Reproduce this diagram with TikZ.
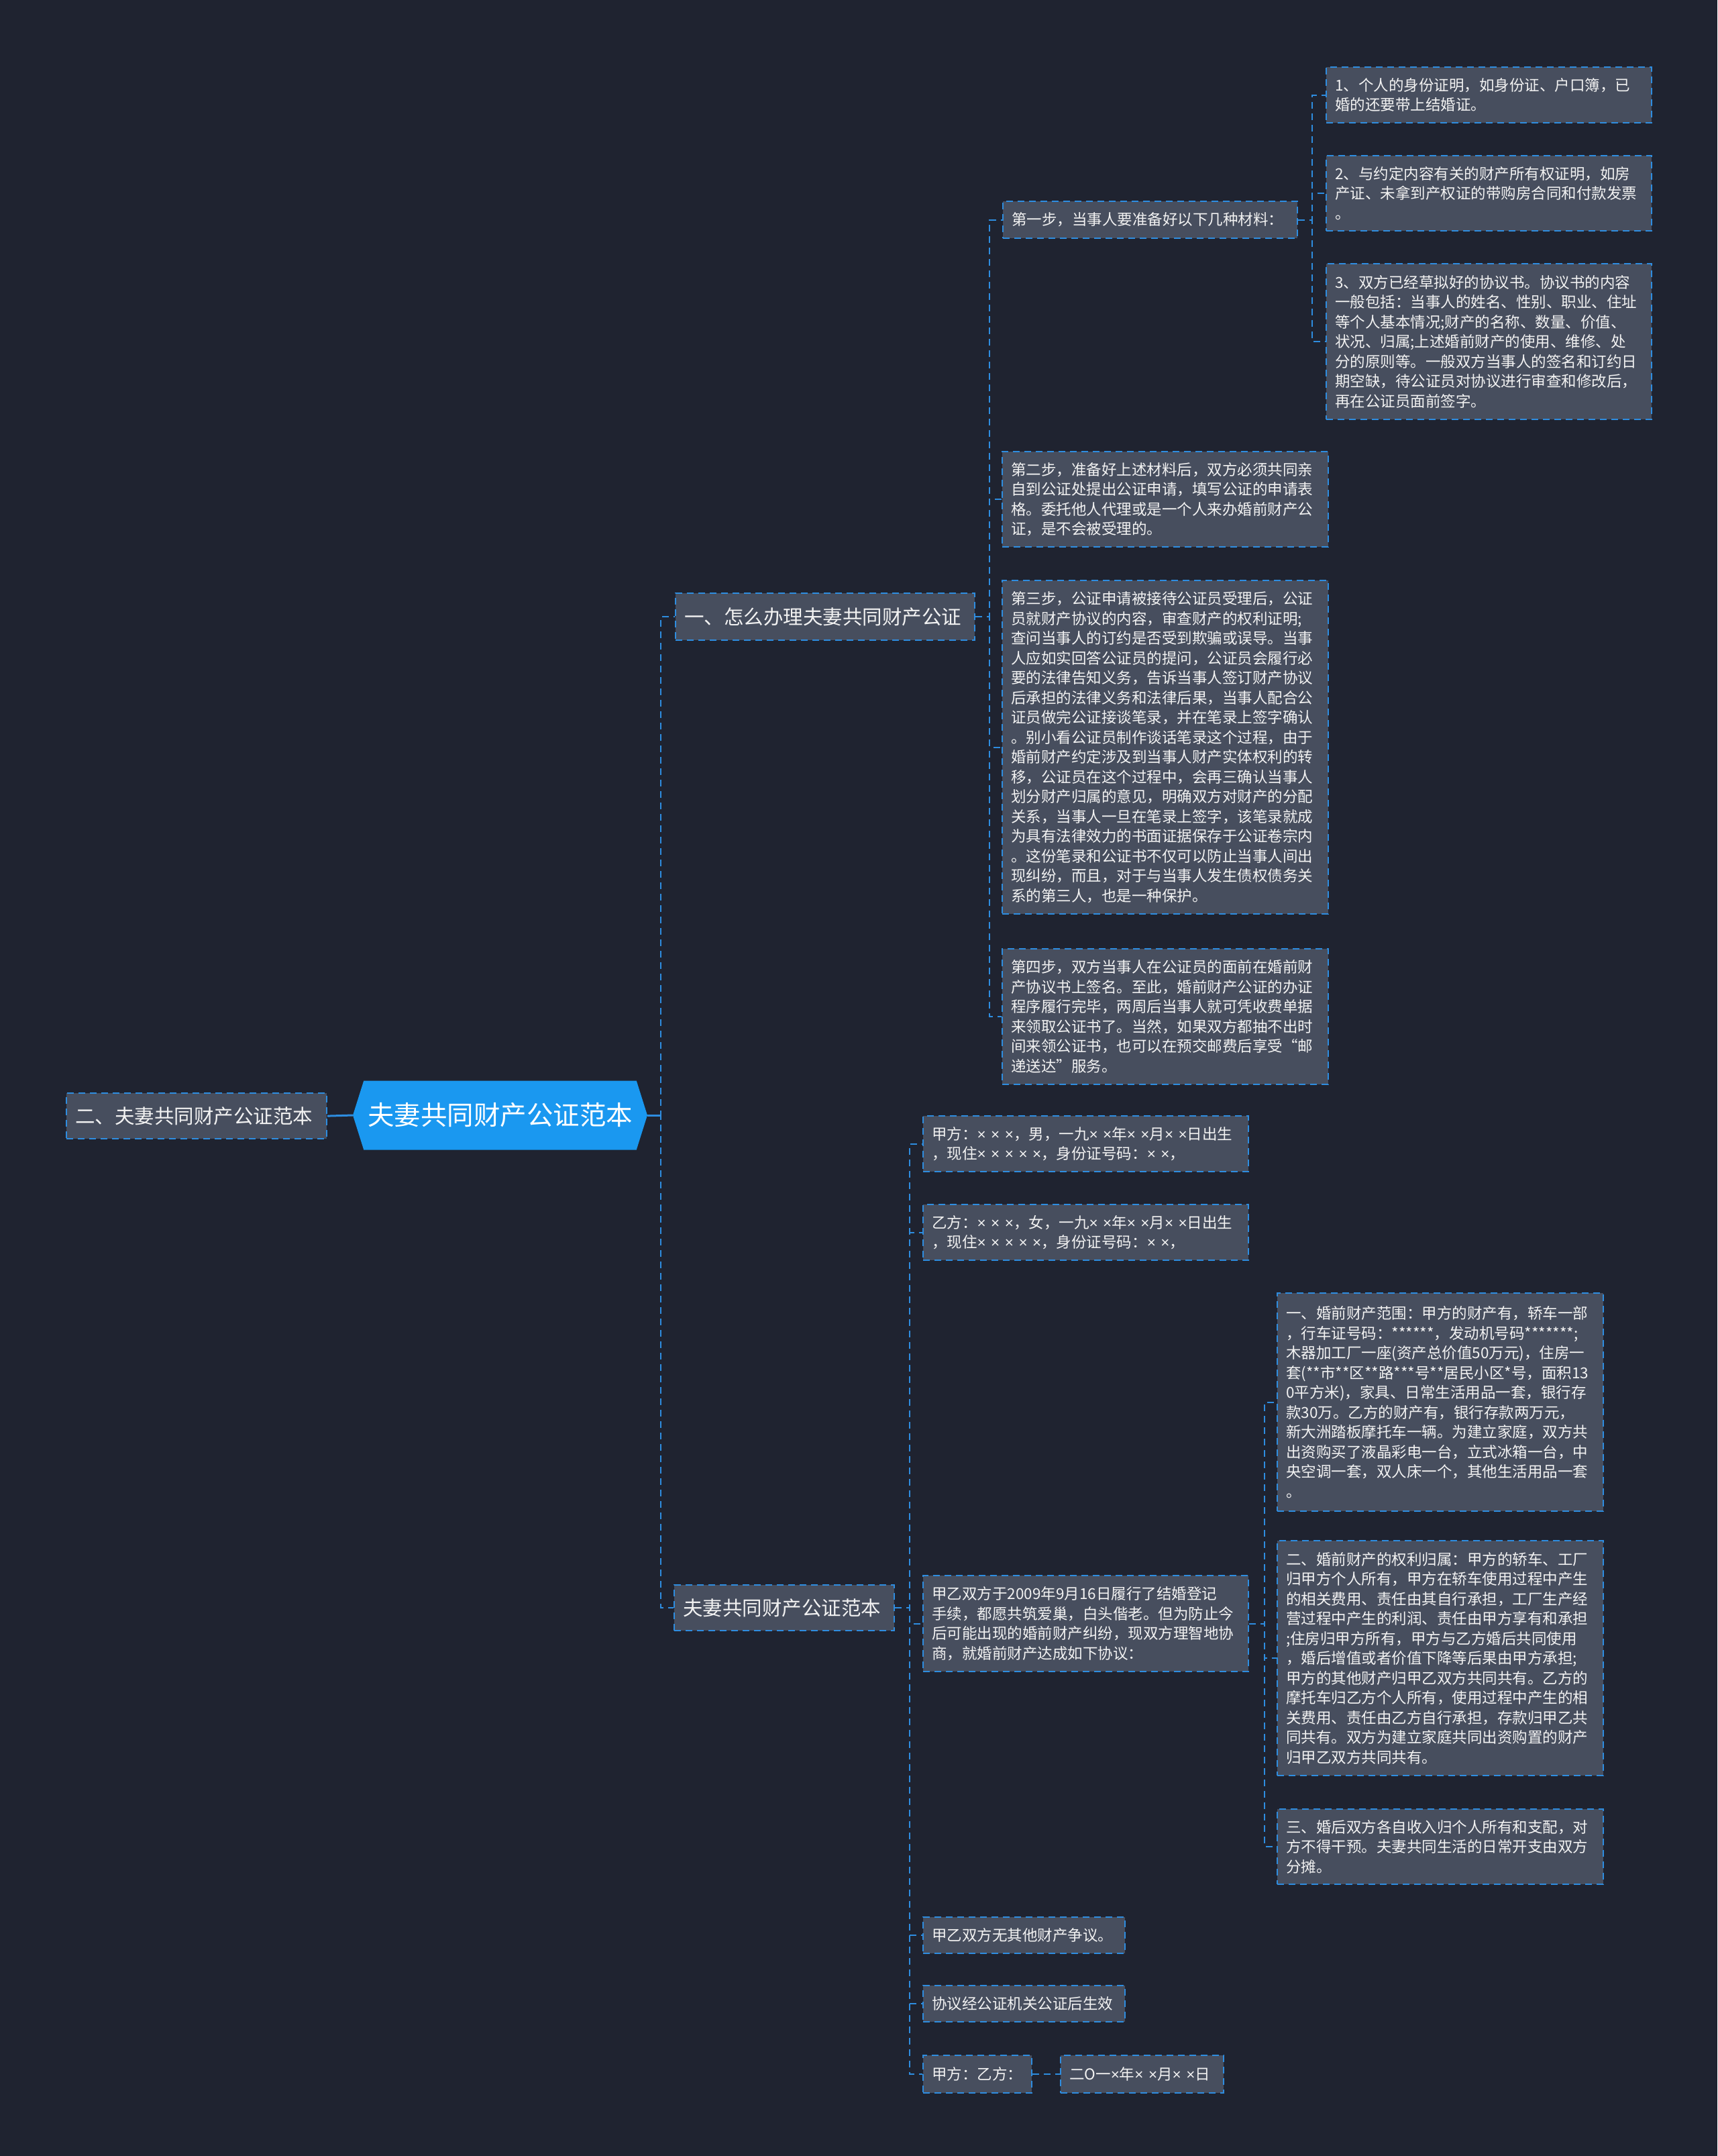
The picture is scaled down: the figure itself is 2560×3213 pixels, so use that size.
\documentclass[tikz,border=0pt]{standalone}
\usepackage{fontspec}
\setmainfont{Noto Sans CJK SC}
\newfontfamily\crossfont{Liberation Sans}
\newcommand\xs[1]{{\crossfont #1}}
\usetikzlibrary{shapes.symbols}
\definecolor{bgnavy}{HTML}{1F2330}
\definecolor{boxgray}{HTML}{474E5E}
\definecolor{dashblue}{HTML}{2E8DE0}
\definecolor{rootblue}{HTML}{1A98F0}
\definecolor{txtwhite}{HTML}{F2F2F2}
\begin{document}
\begin{tikzpicture}[x=1pt, y=-1pt,
    box/.style={draw=dashblue, dash pattern=on 10pt off 7pt, line width=2.2pt, fill=boxgray, text=txtwhite, align=left, inner xsep=13pt, inner ysep=0pt, anchor=north west, font=\fontsize{22.5}{29.5}\selectfont},
    branch/.style={box, font=\fontsize{29.5}{36}\selectfont},
    link/.style={draw=dashblue, dash pattern=on 10pt off 7pt, line width=2.2pt},
    stem/.style={draw=dashblue, line width=3pt}]
    \fill[bgnavy] (0,0) rectangle (2560,3213);
    \useasboundingbox (0,0) rectangle (2560,3213);
    \node[signal, signal to=west and east, signal pointer angle=145, fill=rootblue, text=white, minimum width=439pt, minimum height=103pt, inner sep=0pt, font=\fontsize{39.5}{44}\selectfont] (root) at (745.5,1662) {夫妻共同财产公证范本};
    \node[branch, text width=362pt, minimum height=68pt] (left) at (98,1628) {二、夫妻共同财产公证范本};
    \node[branch, text width=420pt, minimum height=70pt] (b1) at (1006,883) {一、怎么办理夫妻共同财产公证};
    \node[branch, text width=302pt, minimum height=68pt] (b2) at (1004,2361) {夫妻共同财产公证范本};
    \node[box, text width=413pt, minimum height=55pt] (s1) at (1494,299) {第一步，当事人要准备好以下几种材料：};
    \node[box, text width=460pt, minimum height=142pt] (s2) at (1493,672) {第二步，准备好上述材料后，双方必须共同亲\\自到公证处提出公证申请，填写公证的申请表\\格。委托他人代理或是一个人来办婚前财产公\\证，是不会被受理的。};
    \node[box, text width=460pt, minimum height=497pt] (s3) at (1493,864) {第三步，公证申请被接待公证员受理后，公证\\员就财产协议的内容，审查财产的权利证明;\\查问当事人的订约是否受到欺骗或误导。当事\\人应如实回答公证员的提问，公证员会履行必\\要的法律告知义务，告诉当事人签订财产协议\\后承担的法律义务和法律后果，当事人配合公\\证员做完公证接谈笔录，并在笔录上签字确认\\。别小看公证员制作谈话笔录这个过程，由于\\婚前财产约定涉及到当事人财产实体权利的转\\移，公证员在这个过程中，会再三确认当事人\\划分财产归属的意见，明确双方对财产的分配\\关系，当事人一旦在笔录上签字，该笔录就成\\为具有法律效力的书面证据保存于公证卷宗内\\。这份笔录和公证书不仅可以防止当事人间出\\现纠纷，而且，对于与当事人发生债权债务关\\系的第三人，也是一种保护。};
    \node[box, text width=460pt, minimum height=202pt] (s4) at (1493,1413) {第四步，双方当事人在公证员的面前在婚前财\\产协议书上签名。至此，婚前财产公证的办证\\程序履行完毕，两周后当事人就可凭收费单据\\来领取公证书了。当然，如果双方都抽不出时\\间来领公证书，也可以在预交邮费后享受“邮\\递送达”服务。};
    \node[box, text width=459pt, minimum height=83pt] (m1) at (1976,99) {1、个人的身份证明，如身份证、户口簿，已\\婚的还要带上结婚证。};
    \node[box, text width=459pt, minimum height=112pt] (m2) at (1976,231) {2、与约定内容有关的财产所有权证明，如房\\产证、未拿到产权证的带购房合同和付款发票\\。};
    \node[box, text width=459pt, minimum height=232pt] (m3) at (1976,392) {3、双方已经草拟好的协议书。协议书的内容\\一般包括：当事人的姓名、性别、职业、住址\\等个人基本情况;财产的名称、数量、价值、\\状况、归属;上述婚前财产的使用、维修、处\\分的原则等。一般双方当事人的签名和订约日\\期空缺，待公证员对协议进行审查和修改后，\\再在公证员面前签字。};
    \node[box, text width=459pt, minimum height=83pt] (p1) at (1375,1662) {甲方：\xs{× × ×}，男，一九\xs{× ×}年\xs{× ×}月\xs{× ×}日出生\\，现住\xs{× × × × ×}，身份证号码：\xs{× ×}，};
    \node[box, text width=459pt, minimum height=83pt] (p2) at (1375,1794) {乙方：\xs{× × ×}，女，一九\xs{× ×}年\xs{× ×}月\xs{× ×}日出生\\，现住\xs{× × × × ×}，身份证号码：\xs{× ×}，};
    \node[box, text width=459pt, minimum height=143pt] (p3) at (1375,2347) {甲乙双方于2009年9月16日履行了结婚登记\\手续，都愿共筑爱巢，白头偕老。但为防止今\\后可能出现的婚前财产纠纷，现双方理智地协\\商，就婚前财产达成如下协议：};
    \node[box, text width=460pt, minimum height=325pt] (q1) at (1903,1926) {一、婚前财产范围：甲方的财产有，轿车一部\\，行车证号码：******，发动机号码*******;\\木器加工厂一座(资产总价值50万元)，住房一\\套(**市**区**路***号**居民小区*号，面积13\\0平方米)，家具、日常生活用品一套，银行存\\款30万。乙方的财产有，银行存款两万元，\\新大洲踏板摩托车一辆。为建立家庭，双方共\\出资购买了液晶彩电一台，立式冰箱一台，中\\央空调一套，双人床一个，其他生活用品一套\\。};
    \node[box, text width=460pt, minimum height=350pt] (q2) at (1903,2295) {二、婚前财产的权利归属：甲方的轿车、工厂\\归甲方个人所有，甲方在轿车使用过程中产生\\的相关费用、责任由其自行承担，工厂生产经\\营过程中产生的利润、责任由甲方享有和承担\\;住房归甲方所有，甲方与乙方婚后共同使用\\，婚后增值或者价值下降等后果由甲方承担;\\甲方的其他财产归甲乙双方共同共有。乙方的\\摩托车归乙方个人所有，使用过程中产生的相\\关费用、责任由乙方自行承担，存款归甲乙共\\同共有。双方为建立家庭共同出资购置的财产\\归甲乙双方共同共有。};
    \node[box, text width=460pt, minimum height=112pt] (q3) at (1903,2695) {三、婚后双方各自收入归个人所有和支配，对\\方不得干预。夫妻共同生活的日常开支由双方\\分摊。};
    \node[box, text width=275pt, minimum height=54pt] (p4) at (1375,2856) {甲乙双方无其他财产争议。};
    \node[box, text width=275pt, minimum height=54pt] (p5) at (1375,2958) {协议经公证机关公证后生效};
    \node[box, text width=136pt, minimum height=56pt] (p6) at (1375,3062) {甲方：乙方：};
    \node[box, text width=217pt, minimum height=56pt] (p7) at (1580,3062) {二O一\xs{×}年\xs{× ×}月\xs{× ×}日};
    \foreach \c in {b1,b2}
        \draw[link] (root.east) -- ++(20,0) |- (\c.west);
    \foreach \c in {s1,s2,s3,s4}
        \draw[link] (b1.east) -- ++(21,0) |- (\c.west);
    \foreach \c in {m1,m2,m3}
        \draw[link] (s1.east) -- ++(21,0) |- (\c.west);
    \foreach \c in {p1,p2,p3,p4,p5,p6}
        \draw[link] (b2.east) -- ++(22,0) |- (\c.west);
    \foreach \c in {q1,q2,q3}
        \draw[link] (p3.east) -- ++(23,0) |- (\c.west);
    \draw[link] (p6.east) -- (p7.west);
    \draw[stem] (left.east) -- (root.west);
    \draw[stem] (root.east) -- ++(20,0);
\end{tikzpicture}
\end{document}
